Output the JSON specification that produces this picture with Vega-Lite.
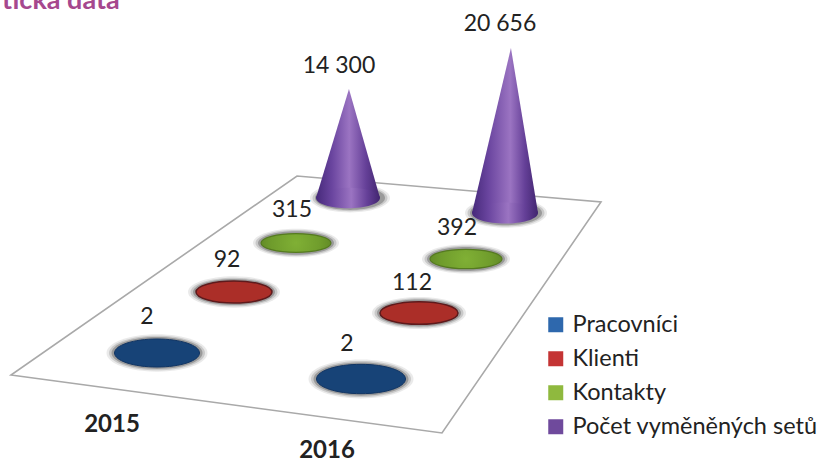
{"$schema":"https://vega.github.io/schema/vega-lite/v6.json","width":819,"height":462,"padding":0,"autosize":"none","background":"white","config":{"view":{"stroke":null},"text":{"font":"Lato"}},
"datasets":{"d":[{"year":"2015","series":"Pracovníci","value":2},{"year":"2016","series":"Pracovníci","value":2},{"year":"2015","series":"Klienti","value":92},{"year":"2016","series":"Klienti","value":112},{"year":"2015","series":"Kontakty","value":315},{"year":"2016","series":"Kontakty","value":392},{"year":"2015","series":"Počet vyměněných setů","value":14300},{"year":"2016","series":"Počet vyměněných setů","value":20656}]},
"data":{"name":"d"},
"transform":[{"calculate":"replace(format(datum.value, ','), ',', ' ')","as":"lab"}],
"resolve":{"scale":{"x":"independent","y":"independent","size":"independent"}},
"layer":[
{"mark":{"type":"square","opacity":1,"size":1},"encoding":{"color":{"field":"series","type":"nominal","scale":{"domain":["Pracovníci","Klienti","Kontakty","Počet vyměněných setů"],"range":["#2e68ad","#c43434","#8fb93e","#6f4a9c"]},"legend":{"title":null,"orient":"none","legendX":544,"legendY":313,"symbolType":"square","symbolSize":225,"symbolStrokeWidth":0,"symbolOpacity":1,"labelFont":"Lato","labelFontSize":23.5,"labelColor":"#222222","labelOffset":5,"labelLimit":400,"rowPadding":9}}}},
{"data":{"values":[{"shape":"floor"}]},"transform":[],"mark":{"type":"point","filled":true,"opacity":1,"fill":"white","stroke":"#a9a9a9","strokeWidth":1.6,"size":4,"shape":"M-398.5,144L32.5,202L191.5,-29L-112.5,-55Z"},"encoding":{}},

{"transform":[{"filter":"datum.series=='Pracovníci'"}],"mark":{"type":"point","filled":true,"color":"#555555","opacity":0.12,"shape":"M-1,0A1,0.37 0 1 1 1,0A1,0.37 0 1 1 -1,0Z"},"encoding":{"x":{"field":"year","type":"nominal","axis":null,"scale":{"type":"point","padding":0,"domain":["2015","2016"],"range":[157,361]}},"y":{"field":"year","type":"nominal","axis":null,"scale":{"type":"point","padding":0,"domain":["2015","2016"],"range":[353,379]}},"size":{"field":"year","type":"ordinal","legend":null,"scale":{"domain":["2015","2016"],"range":[10201,11025]}}}},
{"transform":[{"filter":"datum.series=='Pracovníci'"}],"mark":{"type":"point","filled":true,"color":"#555555","opacity":0.22,"shape":"M-1,0A1,0.36 0 1 1 1,0A1,0.36 0 1 1 -1,0Z"},"encoding":{"x":{"field":"year","type":"nominal","axis":null,"scale":{"type":"point","padding":0,"domain":["2015","2016"],"range":[157,361]}},"y":{"field":"year","type":"nominal","axis":null,"scale":{"type":"point","padding":0,"domain":["2015","2016"],"range":[353,379]}},"size":{"field":"year","type":"ordinal","legend":null,"scale":{"domain":["2015","2016"],"range":[9216,10000]}}}},
{"transform":[{"filter":"datum.series=='Pracovníci'"}],"mark":{"type":"point","filled":true,"color":"#555555","opacity":0.4,"shape":"M-1,0A1,0.35 0 1 1 1,0A1,0.35 0 1 1 -1,0Z"},"encoding":{"x":{"field":"year","type":"nominal","axis":null,"scale":{"type":"point","padding":0,"domain":["2015","2016"],"range":[157,361]}},"y":{"field":"year","type":"nominal","axis":null,"scale":{"type":"point","padding":0,"domain":["2015","2016"],"range":[353,379]}},"size":{"field":"year","type":"ordinal","legend":null,"scale":{"domain":["2015","2016"],"range":[8281,9025]}}}},
{"transform":[{"filter":"datum.series=='Pracovníci'"}],"mark":{"type":"point","filled":true,"opacity":1,"stroke":"#123563","strokeWidth":1,"fill":"#174377","shape":"M-1,0A1,0.33 0 1 1 1,0A1,0.33 0 1 1 -1,0Z"},"encoding":{"x":{"field":"year","type":"nominal","axis":null,"scale":{"type":"point","padding":0,"domain":["2015","2016"],"range":[157,361]}},"y":{"field":"year","type":"nominal","axis":null,"scale":{"type":"point","padding":0,"domain":["2015","2016"],"range":[353,379]}},"size":{"field":"year","type":"ordinal","legend":null,"scale":{"domain":["2015","2016"],"range":[7225,7921]}}}},

{"transform":[{"filter":"datum.series=='Klienti'"}],"mark":{"type":"point","filled":true,"color":"#555555","opacity":0.12,"shape":"M-1,0A1,0.34 0 1 1 1,0A1,0.34 0 1 1 -1,0Z"},"encoding":{"x":{"field":"year","type":"nominal","axis":null,"scale":{"type":"point","padding":0,"domain":["2015","2016"],"range":[234,419]}},"y":{"field":"year","type":"nominal","axis":null,"scale":{"type":"point","padding":0,"domain":["2015","2016"],"range":[292,313]}},"size":{"field":"year","type":"ordinal","legend":null,"scale":{"domain":["2015","2016"],"range":[8464,8836]}}}},
{"transform":[{"filter":"datum.series=='Klienti'"}],"mark":{"type":"point","filled":true,"color":"#555555","opacity":0.22,"shape":"M-1,0A1,0.33 0 1 1 1,0A1,0.33 0 1 1 -1,0Z"},"encoding":{"x":{"field":"year","type":"nominal","axis":null,"scale":{"type":"point","padding":0,"domain":["2015","2016"],"range":[234,419]}},"y":{"field":"year","type":"nominal","axis":null,"scale":{"type":"point","padding":0,"domain":["2015","2016"],"range":[292,313]}},"size":{"field":"year","type":"ordinal","legend":null,"scale":{"domain":["2015","2016"],"range":[7569,7921]}}}},
{"transform":[{"filter":"datum.series=='Klienti'"}],"mark":{"type":"point","filled":true,"color":"#555555","opacity":0.4,"shape":"M-1,0A1,0.32 0 1 1 1,0A1,0.32 0 1 1 -1,0Z"},"encoding":{"x":{"field":"year","type":"nominal","axis":null,"scale":{"type":"point","padding":0,"domain":["2015","2016"],"range":[234,419]}},"y":{"field":"year","type":"nominal","axis":null,"scale":{"type":"point","padding":0,"domain":["2015","2016"],"range":[292,313]}},"size":{"field":"year","type":"ordinal","legend":null,"scale":{"domain":["2015","2016"],"range":[6724,7056]}}}},
{"transform":[{"filter":"datum.series=='Klienti'"}],"mark":{"type":"point","filled":true,"opacity":1,"stroke":"#5e1a1c","strokeWidth":1.5,"fill":"#ab2e28","shape":"M-1,0A1,0.29 0 1 1 1,0A1,0.29 0 1 1 -1,0Z"},"encoding":{"x":{"field":"year","type":"nominal","axis":null,"scale":{"type":"point","padding":0,"domain":["2015","2016"],"range":[234,419]}},"y":{"field":"year","type":"nominal","axis":null,"scale":{"type":"point","padding":0,"domain":["2015","2016"],"range":[292,313]}},"size":{"field":"year","type":"ordinal","legend":null,"scale":{"domain":["2015","2016"],"range":[5776,6084]}}}},

{"transform":[{"filter":"datum.series=='Kontakty'"}],"mark":{"type":"point","filled":true,"color":"#555555","opacity":0.12,"shape":"M-1,0A1,0.33 0 1 1 1,0A1,0.33 0 1 1 -1,0Z"},"encoding":{"x":{"field":"year","type":"nominal","axis":null,"scale":{"type":"point","padding":0,"domain":["2015","2016"],"range":[296,466]}},"y":{"field":"year","type":"nominal","axis":null,"scale":{"type":"point","padding":0,"domain":["2015","2016"],"range":[243,259]}},"size":{"field":"year","type":"ordinal","legend":null,"scale":{"domain":["2015","2016"],"range":[7396,7744]}}}},
{"transform":[{"filter":"datum.series=='Kontakty'"}],"mark":{"type":"point","filled":true,"color":"#555555","opacity":0.22,"shape":"M-1,0A1,0.32 0 1 1 1,0A1,0.32 0 1 1 -1,0Z"},"encoding":{"x":{"field":"year","type":"nominal","axis":null,"scale":{"type":"point","padding":0,"domain":["2015","2016"],"range":[296,466]}},"y":{"field":"year","type":"nominal","axis":null,"scale":{"type":"point","padding":0,"domain":["2015","2016"],"range":[243,259]}},"size":{"field":"year","type":"ordinal","legend":null,"scale":{"domain":["2015","2016"],"range":[6561,6889]}}}},
{"transform":[{"filter":"datum.series=='Kontakty'"}],"mark":{"type":"point","filled":true,"color":"#555555","opacity":0.4,"shape":"M-1,0A1,0.31 0 1 1 1,0A1,0.31 0 1 1 -1,0Z"},"encoding":{"x":{"field":"year","type":"nominal","axis":null,"scale":{"type":"point","padding":0,"domain":["2015","2016"],"range":[296,466]}},"y":{"field":"year","type":"nominal","axis":null,"scale":{"type":"point","padding":0,"domain":["2015","2016"],"range":[243,259]}},"size":{"field":"year","type":"ordinal","legend":null,"scale":{"domain":["2015","2016"],"range":[5776,6084]}}}},
{"transform":[{"filter":"datum.series=='Kontakty'"}],"mark":{"type":"point","filled":true,"opacity":1,"stroke":"#557a20","strokeWidth":1.2,"color":{"gradient":"radial","x1":0.5,"y1":0.5,"r1":0,"x2":0.5,"y2":0.5,"r2":0.5,"stops":[{"offset":0,"color":"#80b035"},{"offset":0.7,"color":"#6f9c2c"},{"offset":1,"color":"#638c27"}]},"shape":"M-1,0A1,0.27 0 1 1 1,0A1,0.27 0 1 1 -1,0Z"},"encoding":{"x":{"field":"year","type":"nominal","axis":null,"scale":{"type":"point","padding":0,"domain":["2015","2016"],"range":[296,466]}},"y":{"field":"year","type":"nominal","axis":null,"scale":{"type":"point","padding":0,"domain":["2015","2016"],"range":[243,259]}},"size":{"field":"year","type":"ordinal","legend":null,"scale":{"domain":["2015","2016"],"range":[4900,5184]}}}},

{"transform":[{"filter":"indexof(datum.series,'Počet')==0"}],"mark":{"type":"point","filled":true,"color":"#555555","opacity":0.12,"shape":"M-1,0A1,0.36 0 1 1 1,0A1,0.36 0 1 1 -1,0Z"},"encoding":{"x":{"field":"year","type":"nominal","axis":null,"scale":{"type":"point","padding":0,"domain":["2015","2016"],"range":[350,506]}},"y":{"field":"year","type":"nominal","axis":null,"scale":{"type":"point","padding":0,"domain":["2015","2016"],"range":[198,213]}},"size":{"field":"year","type":"ordinal","legend":null,"scale":{"domain":["2015","2016"],"range":[6400,6724]}}}},
{"transform":[{"filter":"indexof(datum.series,'Počet')==0"}],"mark":{"type":"point","filled":true,"color":"#555555","opacity":0.22,"shape":"M-1,0A1,0.35 0 1 1 1,0A1,0.35 0 1 1 -1,0Z"},"encoding":{"x":{"field":"year","type":"nominal","axis":null,"scale":{"type":"point","padding":0,"domain":["2015","2016"],"range":[350,506]}},"y":{"field":"year","type":"nominal","axis":null,"scale":{"type":"point","padding":0,"domain":["2015","2016"],"range":[198,213]}},"size":{"field":"year","type":"ordinal","legend":null,"scale":{"domain":["2015","2016"],"range":[5625,5929]}}}},
{"transform":[{"filter":"indexof(datum.series,'Počet')==0"}],"mark":{"type":"point","filled":true,"color":"#555555","opacity":0.4,"shape":"M-1,0A1,0.34 0 1 1 1,0A1,0.34 0 1 1 -1,0Z"},"encoding":{"x":{"field":"year","type":"nominal","axis":null,"scale":{"type":"point","padding":0,"domain":["2015","2016"],"range":[350,506]}},"y":{"field":"year","type":"nominal","axis":null,"scale":{"type":"point","padding":0,"domain":["2015","2016"],"range":[198,213]}},"size":{"field":"year","type":"ordinal","legend":null,"scale":{"domain":["2015","2016"],"range":[4900,5184]}}}},

{"transform":[{"filter":"indexof(datum.series,'Počet')==0 && datum.year=='2015'"},{"calculate":"0","as":"left"},{"calculate":"datum.value","as":"tip"},{"calculate":"0","as":"right"},{"fold":["left","tip","right"],"as":["side","level"]},{"calculate":"datum.side=='left'?-1:datum.side=='right'?1:0.03","as":"u"}],"mark":{"type":"area","orient":"vertical","opacity":1,"color":{"gradient":"linear","x1":0,"y1":0,"x2":1,"y2":0,"stops":[{"offset":0,"color":"#46297a"},{"offset":0.25,"color":"#6a459f"},{"offset":0.52,"color":"#9b74c2"},{"offset":0.78,"color":"#654098"},{"offset":1,"color":"#41256f"}]}},"encoding":{"x":{"field":"u","type":"quantitative","axis":null,"scale":{"domain":[-1,1],"range":[316,380],"nice":false,"zero":false}},"y":{"field":"level","type":"quantitative","axis":null,"stack":null,"scale":{"domain":[0,14300],"range":[198,89],"nice":false}}}},
{"transform":[{"filter":"indexof(datum.series,'Počet')==0 && datum.year=='2016'"},{"calculate":"0","as":"left"},{"calculate":"datum.value","as":"tip"},{"calculate":"0","as":"right"},{"fold":["left","tip","right"],"as":["side","level"]},{"calculate":"datum.side=='left'?-1:datum.side=='right'?1:0.18","as":"u"}],"mark":{"type":"area","orient":"vertical","opacity":1,"color":{"gradient":"linear","x1":0,"y1":0,"x2":1,"y2":0,"stops":[{"offset":0,"color":"#46297a"},{"offset":0.25,"color":"#6a459f"},{"offset":0.58,"color":"#9b74c2"},{"offset":0.8,"color":"#654098"},{"offset":1,"color":"#41256f"}]}},"encoding":{"x":{"field":"u","type":"quantitative","axis":null,"scale":{"domain":[-1,1],"range":[472,538],"nice":false,"zero":false}},"y":{"field":"level","type":"quantitative","axis":null,"stack":null,"scale":{"domain":[0,20656],"range":[213,48],"nice":false}}}},
{"transform":[{"filter":"indexof(datum.series,'Počet')==0"}],"mark":{"type":"point","filled":true,"opacity":1,"color":{"gradient":"linear","x1":0,"y1":0,"x2":1,"y2":0,"stops":[{"offset":0,"color":"#46297a"},{"offset":0.25,"color":"#6a459f"},{"offset":0.55,"color":"#9b74c2"},{"offset":0.8,"color":"#654098"},{"offset":1,"color":"#41256f"}]},"shape":"M-1,0A1,0.32 0 1 0 1,0A1,0.32 0 1 0 -1,0Z"},"encoding":{"x":{"field":"year","type":"nominal","axis":null,"scale":{"type":"point","padding":0,"domain":["2015","2016"],"range":[348,505]}},"y":{"field":"year","type":"nominal","axis":null,"scale":{"type":"point","padding":0,"domain":["2015","2016"],"range":[198,213]}},"size":{"field":"year","type":"ordinal","legend":null,"scale":{"domain":["2015","2016"],"range":[4096,4356]}}}},

{"transform":[{"filter":"datum.series=='Pracovníci'"}],"mark":{"type":"text","font":"Lato","fontSize":23,"color":"#222222","align":"center","baseline":"alphabetic"},"encoding":{"text":{"field":"lab"},"x":{"field":"year","type":"nominal","axis":null,"scale":{"type":"point","padding":0,"domain":["2015","2016"],"range":[147,347]}},"y":{"field":"year","type":"nominal","axis":null,"scale":{"type":"point","padding":0,"domain":["2015","2016"],"range":[324,351]}}}},
{"transform":[{"filter":"datum.series=='Klienti'"}],"mark":{"type":"text","font":"Lato","fontSize":23,"color":"#222222","align":"center","baseline":"alphabetic"},"encoding":{"text":{"field":"lab"},"x":{"field":"year","type":"nominal","axis":null,"scale":{"type":"point","padding":0,"domain":["2015","2016"],"range":[227,412]}},"y":{"field":"year","type":"nominal","axis":null,"scale":{"type":"point","padding":0,"domain":["2015","2016"],"range":[267,290]}}}},
{"transform":[{"filter":"datum.series=='Kontakty'"}],"mark":{"type":"text","font":"Lato","fontSize":23,"color":"#222222","align":"center","baseline":"alphabetic"},"encoding":{"text":{"field":"lab"},"x":{"field":"year","type":"nominal","axis":null,"scale":{"type":"point","padding":0,"domain":["2015","2016"],"range":[292,457]}},"y":{"field":"year","type":"nominal","axis":null,"scale":{"type":"point","padding":0,"domain":["2015","2016"],"range":[217,235]}}}},
{"transform":[{"filter":"indexof(datum.series,'Počet')==0"}],"mark":{"type":"text","font":"Lato","fontSize":23,"color":"#222222","align":"center","baseline":"alphabetic"},"encoding":{"text":{"field":"lab"},"x":{"field":"year","type":"nominal","axis":null,"scale":{"type":"point","padding":0,"domain":["2015","2016"],"range":[339,500]}},"y":{"field":"year","type":"nominal","axis":null,"scale":{"type":"point","padding":0,"domain":["2015","2016"],"range":[73,31]}}}},

{"transform":[{"filter":"datum.series=='Pracovníci'"}],"mark":{"type":"text","font":"Lato","fontWeight":"bold","fontSize":24,"color":"#222222","align":"center","baseline":"alphabetic"},"encoding":{"text":{"field":"year"},"x":{"field":"year","type":"nominal","axis":null,"scale":{"type":"point","padding":0,"domain":["2015","2016"],"range":[112,327]}},"y":{"field":"year","type":"nominal","axis":null,"scale":{"type":"point","padding":0,"domain":["2015","2016"],"range":[432,458]}}}},
{"data":{"values":[{"label":"tická data"}]},"transform":[],"mark":{"type":"text","font":"Lato","fontWeight":"bold","fontSize":27,"color":"#a6488e","align":"left","baseline":"alphabetic"},"encoding":{"text":{"field":"label"},"x":{"field":"label","type":"nominal","axis":null,"scale":{"type":"point","padding":0,"domain":["tická data"],"range":[2,2]}},"y":{"field":"label","type":"nominal","axis":null,"scale":{"type":"point","padding":0,"domain":["tická data"],"range":[9,9]}}}}
]}
